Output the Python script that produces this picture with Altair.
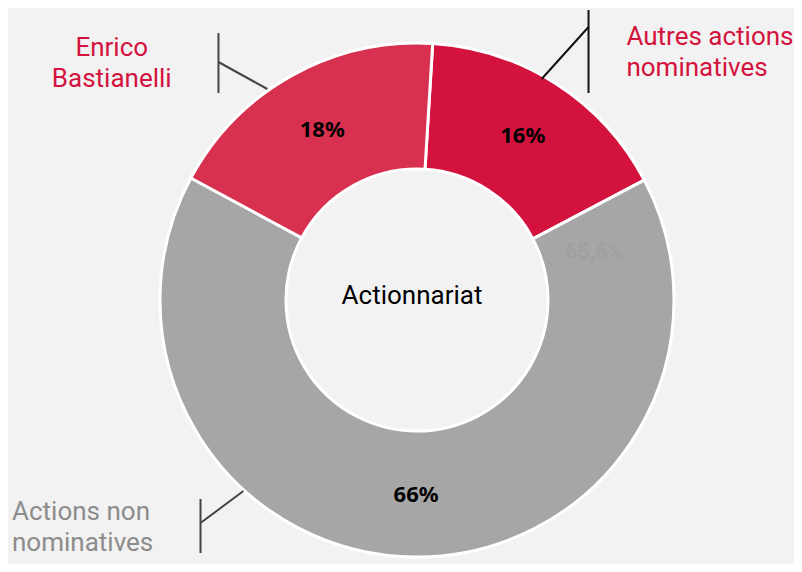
import math
import altair as alt
import pandas as pd

# ---- data -------------------------------------------------------------
categories = ["Autres actions nominatives", "Actions non nominatives", "Enrico Bastianelli"]
shares = [16.3, 65.6, 18.1]
pct_labels = ["16%", "66%", "18%"]
order_idx = [0, 1, 2]
slice_colors = ["#d4123e", "#a6a6a6", "#d8304f"]

center_title = ["Actionnariat"]

label_lines = ["Enrico", "Bastianelli", "Autres actions", "nominatives", "Actions non", "nominatives"]
label_x = [104, 104, 620, 620, 4, 4]
label_y = [40, 71, 29, 60, 504, 535]
label_align = ["center", "center", "left", "left", "left", "left"]
label_color = ["#d4123e", "#d4123e", "#d4123e", "#d4123e", "#8c8c8c", "#8c8c8c"]

leader_x = [211, 211, 582, 582, 193, 193]
leader_y = [25, 54, 2, 19, 491, 515]
leader_x2 = [211, 260, 582, 535, 193, 236]
leader_y2 = [85, 81, 85, 71, 545, 483]
leader_color = ["#444444", "#444444", "#111111", "#111111", "#444444", "#444444"]

W, H = 786, 556
CX, CY = 409, 292
R_OUT, R_IN = 257, 131
START = math.radians(3.5)

slices = pd.DataFrame({"cat": categories, "share": shares, "pct": pct_labels,
                       "idx": order_idx})
labels = pd.DataFrame({"t": label_lines, "x": label_x, "y": label_y,
                       "align": label_align, "c": label_color})
leaders = pd.DataFrame({"x": leader_x, "y": leader_y, "x2": leader_x2,
                        "y2": leader_y2, "c": leader_color})

theta_scale = alt.Scale(domain=[0, 100], range=[START, START + 2 * math.pi])
xs = alt.Scale(domain=[0, W])
ys = alt.Scale(domain=[0, H], reverse=True)

arcs = alt.Chart(slices).mark_arc(
    outerRadius=R_OUT, innerRadius=R_IN, stroke="white", strokeWidth=3
).encode(
    theta=alt.Theta("share:Q", stack=True, scale=theta_scale),
    order=alt.Order("idx:Q"),
    color=alt.Color("cat:N", scale=alt.Scale(domain=categories, range=slice_colors), legend=None),
    x=alt.value(CX), y=alt.value(CY),
)

pct = alt.Chart(slices).mark_text(
    radius=195, font="Noto Sans", fontWeight="bold", fontSize=22, color="black"
).encode(
    theta=alt.Theta("share:Q", stack=True, scale=theta_scale),
    order=alt.Order("idx:Q"),
    text="pct:N",
    x=alt.value(CX), y=alt.value(CY),
)

ghost = alt.Chart(pd.DataFrame({"t": ["65,6%"], "x": [588], "y": [244]})).mark_text(
    font="Roboto", fontSize=22, fontWeight="bold", color="#a0a0a0"
).encode(
    x=alt.X("x:Q", scale=xs, axis=None), y=alt.Y("y:Q", scale=ys, axis=None), text="t:N"
)

title = alt.Chart(pd.DataFrame({"t": center_title})).mark_text(
    font="Roboto", fontSize=26, color="black"
).encode(x=alt.value(CX - 5), y=alt.value(CY - 4), text="t:N")

rules = alt.Chart(leaders).mark_rule(strokeWidth=2).encode(
    x=alt.X("x:Q", scale=xs, axis=None), y=alt.Y("y:Q", scale=ys, axis=None),
    x2="x2:Q", y2="y2:Q",
    color=alt.Color("c:N", scale=None),
)

def lab(align):
    d = labels[labels["align"] == align]
    return alt.Chart(d).mark_text(font="Roboto", fontSize=26, align=align, baseline="middle").encode(
        x=alt.X("x:Q", scale=xs, axis=None), y=alt.Y("y:Q", scale=ys, axis=None),
        text="t:N", color=alt.Color("c:N", scale=None),
    )

chart = alt.layer(arcs, pct, ghost, title, rules, lab("center"), lab("left")).properties(
    width=W, height=H, background="#f2f2f2", padding=0,
    autosize=alt.AutoSizeParams(type="fit", contains="padding"),
).configure_view(stroke=None)

chart.save("out.html", embed_options={"renderer": "svg", "actions": False})
